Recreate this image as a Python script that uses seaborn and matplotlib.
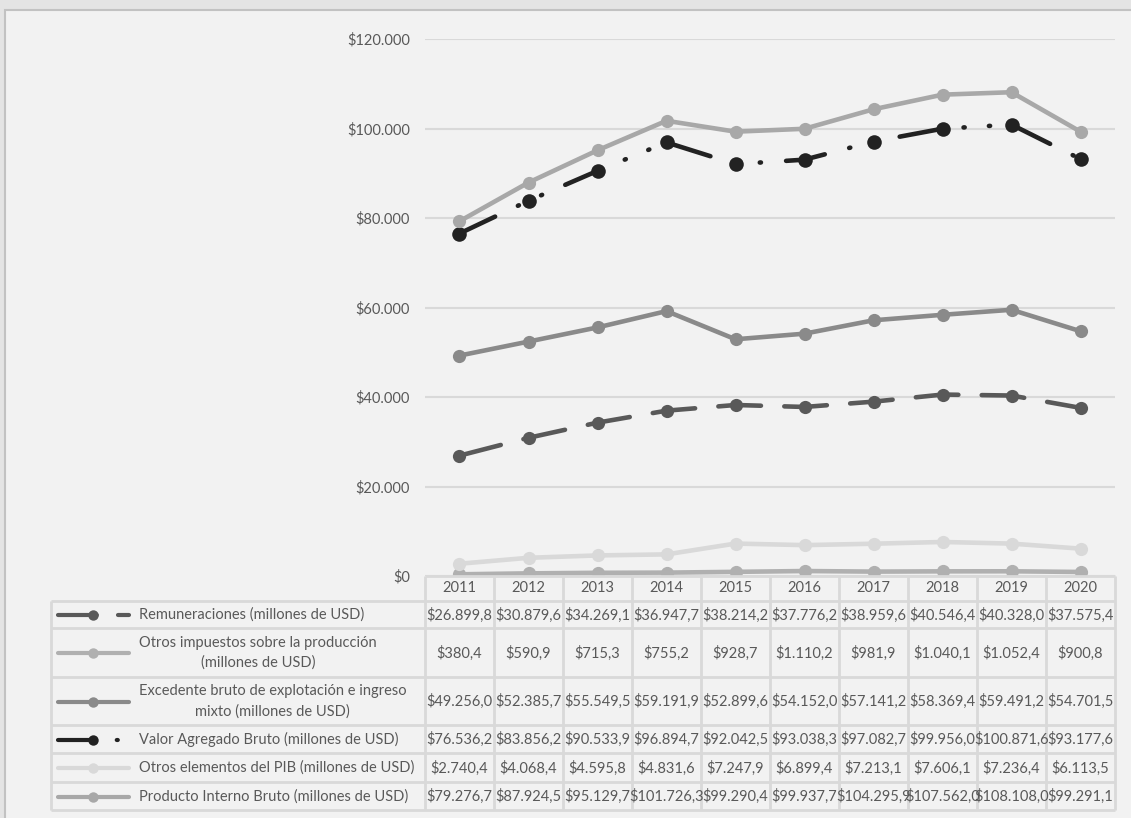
import numpy as np
import pandas as pd
import matplotlib
matplotlib.use("Agg")
import matplotlib.pyplot as plt
from matplotlib.patches import Rectangle
from matplotlib.ticker import FuncFormatter
import seaborn as sns

# data (millones de USD)
years = ["2011", "2012", "2013", "2014", "2015", "2016", "2017", "2018", "2019", "2020"]
remuneraciones = [26899.8, 30879.6, 34269.1, 36947.7, 38214.2, 37776.2, 38959.6, 40546.4, 40328.0, 37575.4]
otros_impuestos = [380.4, 590.9, 715.3, 755.2, 928.7, 1110.2, 981.9, 1040.1, 1052.4, 900.8]
excedente = [49256.0, 52385.7, 55549.5, 59191.9, 52899.6, 54152.0, 57141.2, 58369.4, 59491.2, 54701.5]
valor_agregado = [76536.2, 83856.2, 90533.9, 96894.7, 92042.5, 93038.3, 97082.7, 99956.0, 100871.6, 93177.6]
otros_elementos = [2740.4, 4068.4, 4595.8, 4831.6, 7247.9, 6899.4, 7213.1, 7606.1, 7236.4, 6113.5]
pib = [79276.7, 87924.5, 95129.7, 101726.3, 99290.4, 99937.7, 104295.9, 107562.0, 108108.0, 99291.1]

series_labels = [
    "Remuneraciones (millones de USD)",
    "Otros impuestos sobre la producción\n(millones de USD)",
    "Excedente bruto de explotación e ingreso\nmixto (millones de USD)",
    "Valor Agregado Bruto (millones de USD)",
    "Otros elementos del PIB (millones de USD)",
    "Producto Interno Bruto (millones de USD)",
]
series_values = [remuneraciones, otros_impuestos, excedente, valor_agregado, otros_elementos, pib]

# styles
colors = ["#595959", "#b0b0b0", "#8a8a8a", "#222222", "#d9d9d9", "#a8a8a8"]
dash_rem = (0, (9.3, 5.1))
dash_vab = (0, (8.6, 5.5, 0.25, 5.3, 0.25, 5.5))
linestyles = [dash_rem, "-", "-", dash_vab, "-", "-"]
msizes = [9.5, 9.5, 9.5, 10.5, 9.5, 9.5]

TXT = "#595959"
GRID = "#d9d9d9"
BG = "#f2f2f2"
FONT = "Lato"

W, H = 1131, 818
plt.rcParams["font.family"] = [FONT, "DejaVu Sans"]

fig = plt.figure(figsize=(W / 100, H / 100), dpi=100)
fig.patch.set_facecolor("#e4e4e4")

# background panel in pixel coordinates
bg = fig.add_axes([0, 0, 1, 1], zorder=0)
bg.set_xlim(0, W)
bg.set_ylim(H, 0)
bg.axis("off")
bg.add_patch(Rectangle((5, 10), W + 20, H + 20, facecolor=BG, edgecolor="#c2c2c2", lw=1.5))

# plot area
x0, x1 = 425, 1115
y_top, y_bot = 39, 576
ax = fig.add_axes([x0 / W, (H - y_bot) / H, (x1 - x0) / W, (y_bot - y_top) / H], zorder=2)
ax.set_facecolor("none")

xpos = np.arange(len(years))
for vals, col, ls, ms in zip(series_values, colors, linestyles, msizes):
    sns.lineplot(x=xpos, y=vals, ax=ax, color=col, linestyle=ls, linewidth=3.3,
                 marker="o", markersize=ms, markeredgewidth=0, markerfacecolor=col,
                 dash_capstyle="round", solid_capstyle="round", solid_joinstyle="round")

ax.set_xlim(-0.5, len(years) - 0.5)
ax.set_ylim(0, 120000)
ax.set_yticks(np.arange(0, 120001, 20000))
ax.yaxis.set_major_formatter(FuncFormatter(
    lambda v, p: "$" + f"{v:,.0f}".replace(",", ".")))
ax.set_xticks([])
ax.tick_params(axis="y", length=0, pad=11, labelsize=10.5, labelcolor=TXT)
ax.grid(axis="y", color=GRID, lw=1.5)
ax.set_axisbelow(True)
for s in ax.spines.values():
    s.set_visible(False)
ax.set_xlabel("")
ax.set_ylabel("")


def fmt_money(v):
    s = f"{v:,.1f}".replace(",", "X").replace(".", ",").replace("X", ".")
    return "$" + s


# data table drawn in pixel coords on an overlay axes
tab = fig.add_axes([0, 0, 1, 1], zorder=3)
tab.set_xlim(0, W)
tab.set_ylim(H, 0)
tab.axis("off")

col_w = (x1 - x0) / len(years)
lab_x0 = 51
row_edges = [601, 628, 677, 725, 753, 782, 810]
lw_grid = 2

# header (years)
tab.plot([x0, x1], [y_bot, y_bot], color=GRID, lw=lw_grid, solid_capstyle="butt")
for i, yr in enumerate(years):
    tab.text(x0 + col_w * (i + 0.5), (y_bot + row_edges[0]) / 2, yr, ha="center", va="center",
             fontsize=10.5, color=TXT)
for k in range(len(years) + 1):
    tab.plot([x0 + col_w * k] * 2, [y_bot, row_edges[-1]], color=GRID, lw=lw_grid, solid_capstyle="butt")
for ye in row_edges:
    tab.plot([lab_x0, x1], [ye, ye], color=GRID, lw=lw_grid, solid_capstyle="butt")
tab.plot([lab_x0, lab_x0], [row_edges[0], row_edges[-1]], color=GRID, lw=lw_grid, solid_capstyle="butt")

for r, (lab, vals, col, ls) in enumerate(zip(series_labels, series_values, colors, linestyles)):
    yc = (row_edges[r] + row_edges[r + 1]) / 2 + 0.5
    # legend key
    tab.plot([58, 129], [yc, yc], color=col, linestyle=ls, lw=3.0,
             dash_capstyle="round", solid_capstyle="round")
    tab.plot([93], [yc], marker="o", color=col, markersize=7.5, markeredgewidth=0)
    tab.text(139, yc, lab, ha="left", va="center", multialignment="center",
             fontsize=10.5, color=TXT, linespacing=1.5)
    for i, v in enumerate(vals):
        tab.text(x0 + col_w * (i + 0.5), yc, fmt_money(v), ha="center", va="center",
                 fontsize=10.5, color=TXT)

fig.savefig("out.png", dpi=100, facecolor=fig.get_facecolor())
